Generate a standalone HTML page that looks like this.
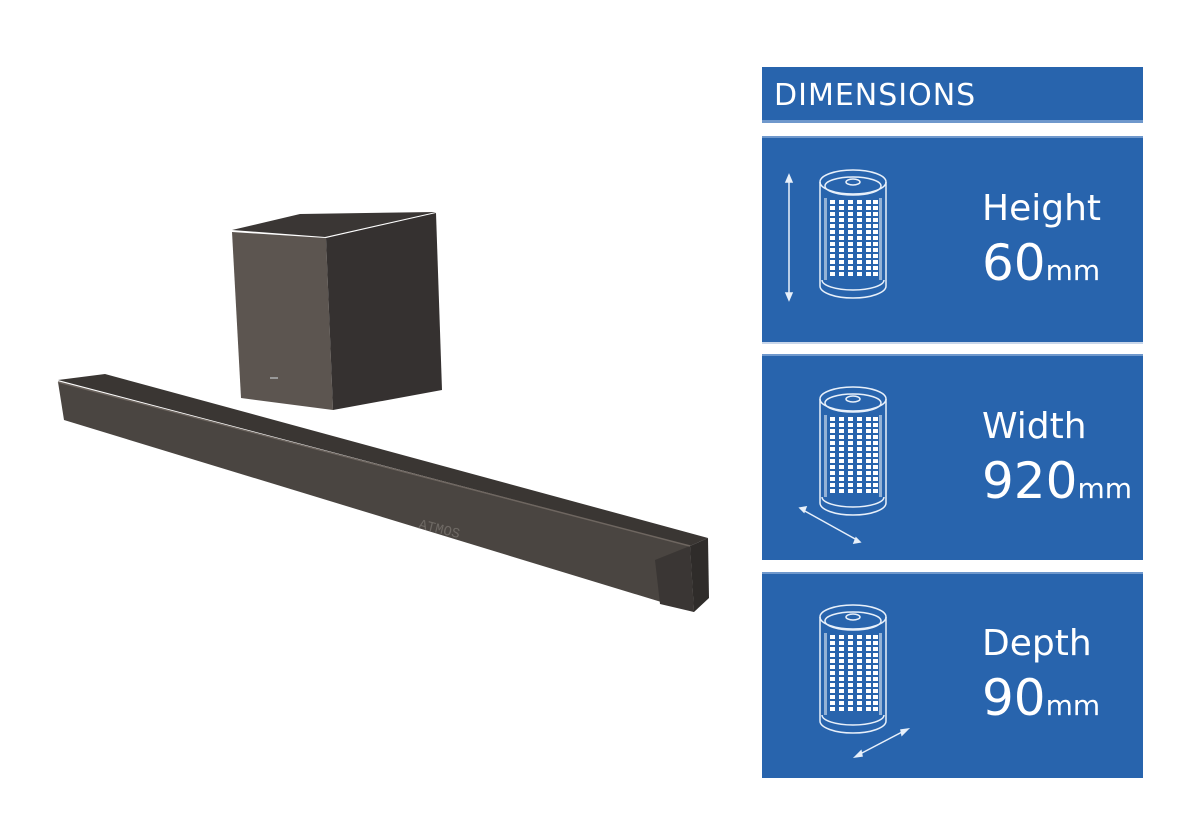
<!DOCTYPE html>
<html><head><meta charset="utf-8"><style>
html,body{margin:0;padding:0;background:#fff;}
body{width:1200px;height:817px;position:relative;overflow:hidden;font-family:"Liberation Sans",sans-serif;}
.p{position:absolute;left:762px;width:381px;background:#2864ad;border-top:2px solid #6f98cc;}
.t{position:absolute;color:#fff;font-family:"DejaVu Sans","Liberation Sans",sans-serif;white-space:nowrap;}
</style></head><body>
<div style="position:absolute;left:762px;top:67px;width:381px;height:53px;background:#2864ad;border-bottom:3px solid #6f98cc;"></div>
<div class="t" style="left:774px;top:78px;font-size:30px;letter-spacing:1px;">DIMENSIONS</div>
<div class="p" style="top:136px;height:204px;border-bottom:2px solid #c8d6ea;"></div>
<div class="p" style="top:354px;height:204px;"></div>
<div class="p" style="top:572px;height:204px;"></div>

<div class="t" style="left:982px;top:188px;font-size:36px;">Height</div>
<div class="t" style="left:982px;top:234px;font-size:50px;">60<span style="font-size:28px">mm</span></div>
<div class="t" style="left:982px;top:406px;font-size:36px;">Width</div>
<div class="t" style="left:982px;top:452px;font-size:50px;">920<span style="font-size:28px">mm</span></div>
<div class="t" style="left:982px;top:623px;font-size:36px;">Depth</div>
<div class="t" style="left:982px;top:669px;font-size:50px;">90<span style="font-size:28px">mm</span></div>

<svg width="1200" height="817" style="position:absolute;left:0;top:0">
<defs>
<g id="col" fill="#fff"><rect x="0" y="32" width="5" height="4"/><rect x="0" y="38" width="5" height="4"/><rect x="0" y="44" width="5" height="4"/><rect x="0" y="50" width="5" height="4"/><rect x="0" y="56" width="5" height="4"/><rect x="0" y="62" width="5" height="4"/><rect x="0" y="68" width="5" height="4"/><rect x="0" y="74" width="5" height="4"/><rect x="0" y="80" width="5" height="4"/><rect x="0" y="86" width="5" height="4"/><rect x="0" y="92" width="5" height="4"/><rect x="0" y="98" width="5" height="4"/><rect x="0" y="104" width="5" height="4"/></g>
<g id="cyl" fill="none" stroke="#e8f0fa" stroke-width="1.5">
<path d="M0 14 V118 A33 12 0 0 0 66 118 V14"/>
<ellipse cx="33" cy="14" rx="33" ry="12"/>
<ellipse cx="33" cy="18" rx="28" ry="9"/>
<ellipse cx="33" cy="14" rx="7" ry="3"/>
<path d="M2 112 A31 10 0 0 0 64 112"/>
<g stroke="none">
<rect x="4" y="30" width="3" height="82" fill="#fff" opacity=".5"/>
<rect x="59" y="30" width="3" height="82" fill="#fff" opacity=".5"/>
<use href="#col" x="10"/><use href="#col" x="19"/><use href="#col" x="28"/><use href="#col" x="37"/><use href="#col" x="46"/><use href="#col" x="53"/>
</g></g>
</defs>
<use href="#cyl" x="820" y="168"/>
<use href="#cyl" x="820" y="385"/>
<use href="#cyl" x="820" y="603"/>
<g stroke="#e8f0fa" stroke-width="1.5" fill="#e8f0fa">
<line x1="789" y1="180" x2="789" y2="295"/><path d="M786 182 L789 175 L792 182Z"/><path d="M786 293 L789 300 L792 293Z"/>
<line x1="803" y1="510" x2="857" y2="540"/><path d="M800 508 L806 507 L804 512Z"/><path d="M860 542 L854 543 L856 538Z"/>
<line x1="860" y1="754" x2="904" y2="731"/><path d="M855 757 L861 751 L862 756Z"/><path d="M908 729 L902 735 L901 730Z"/>
</g>
<!-- subwoofer -->
<polygon points="232,230 300,214 436,212 325,237" fill="#3a3634"/>
<polygon points="232,232 326,238 333,410 241,398" fill="#5c5550"/>
<polygon points="326,238 436,213 442,390 333,410" fill="#353130"/>
<rect x="270" y="377" width="8" height="2" fill="#999"/>
<!-- soundbar -->
<polygon points="58,380 105,374 708,538 690,546" fill="#3a3633"/>
<polygon points="58,382 690,546 694,612 64,420" fill="#4a4541"/>
<polygon points="690,546 708,538 709,598 694,612" fill="#2f2c2a"/>
<polygon points="655,560 690,546 694,612 660,604" fill="#3a3634"/>
<line x1="58" y1="382" x2="690" y2="546" stroke="#6e6660" stroke-width="1.5"/>
<text x="418" y="528" fill="#6e6964" font-size="14" font-family="Liberation Mono,monospace" transform="rotate(14 418 528)">ATMOS</text>
</svg>
</body></html>
